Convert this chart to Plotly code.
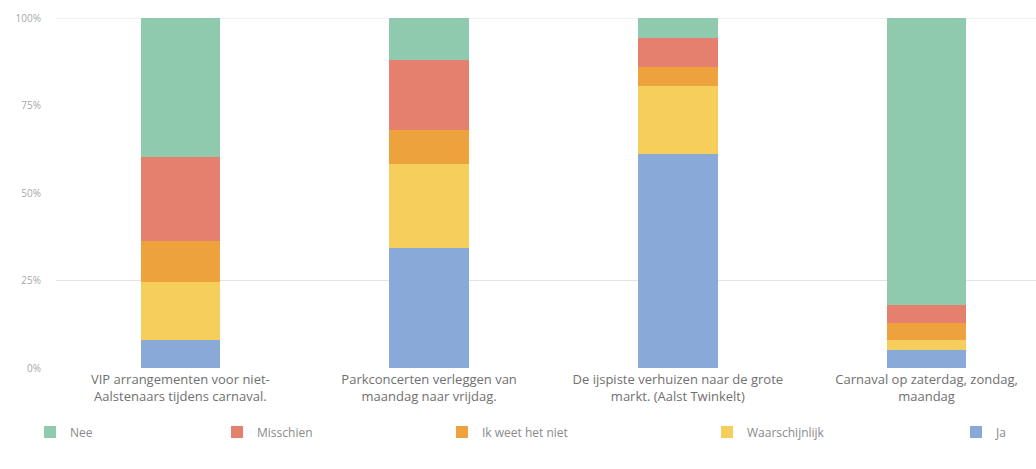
import plotly.graph_objects as go

# Survey statements (x categories)
categories = [
    "VIP arrangementen voor niet-<br>Aalstenaars tijdens carnaval.",
    "Parkconcerten verleggen van<br>maandag naar vrijdag.",
    "De ijspiste verhuizen naar de grote<br>markt. (Aalst Twinkelt)",
    "Carnaval op zaterdag, zondag,<br>maandag",
]

# Share of answers per statement, in percent (stacked bottom to top)
ja = [8.0, 34.3, 61.2, 5.2]
waarschijnlijk = [16.7, 24.0, 19.5, 2.9]
ik_weet_het_niet = [11.5, 9.8, 5.2, 4.7]
misschien = [24.0, 20.0, 8.4, 5.1]
nee = [39.8, 11.9, 5.7, 82.1]

y_tickvals = [0, 25, 50, 75, 100]
y_ticktext = ["0%", "25%", "50%", "75%", "100%"]
grid_values = [25, 100]

# name, values, colour, legend id, legend left edge (fraction of figure width)
series = [
    ("Ja", ja, "#89a9d8", "legend5", 0.9228),
    ("Waarschijnlijk", waarschijnlijk, "#f6ce5b", "legend4", 0.6824),
    ("Ik weet het niet", ik_weet_het_niet, "#eea23e", "legend3", 0.4266),
    ("Misschien", misschien, "#e5806f", "legend2", 0.2095),
    ("Nee", nee, "#8fcaaf", "legend", 0.029),
]

fig = go.Figure()
for name, vals, color, leg, _ in series:
    fig.add_trace(go.Bar(
        x=categories, y=vals, name=name, marker_color=color,
        marker_line_width=0, width=0.32, legend=leg, showlegend=True,
    ))

legend_style = dict(
    orientation="h", xref="container", yref="container",
    yanchor="middle", y=(469 - 432) / 469, xanchor="left",
    bgcolor="rgba(0,0,0,0)", font=dict(size=12, color="#8a8a8a"),
)
legends = {}
for name, vals, color, leg, xpos in series:
    legends[leg] = dict(legend_style, x=xpos)

for gv in grid_values:
    fig.add_shape(type="line", xref="paper", x0=0, x1=1, yref="y", y0=gv, y1=gv,
                  line=dict(color="#e3e3e3", width=1), layer="below")

fig.update_layout(
    width=1036, height=469,
    margin=dict(l=56, r=0, t=18, b=101, autoexpand=False),
    barmode="stack",
    showlegend=True,
    plot_bgcolor="white", paper_bgcolor="white",
    font=dict(family="Open Sans", color="#777777"),
    xaxis=dict(range=[-0.5, 3.44], showgrid=False, zeroline=False, showline=False,
               ticks="", ticklabelstandoff=2,
               tickfont=dict(size=13, color="#707070")),
    yaxis=dict(range=[0, 100], tickvals=y_tickvals, ticktext=y_ticktext,
               showgrid=False, zeroline=False, showline=False, ticks="",
               ticklabelstandoff=14, tickfont=dict(size=10, color="#a8a8a8")),
    bargap=0.68,
    **legends,
)

fig.write_html("out.html")
